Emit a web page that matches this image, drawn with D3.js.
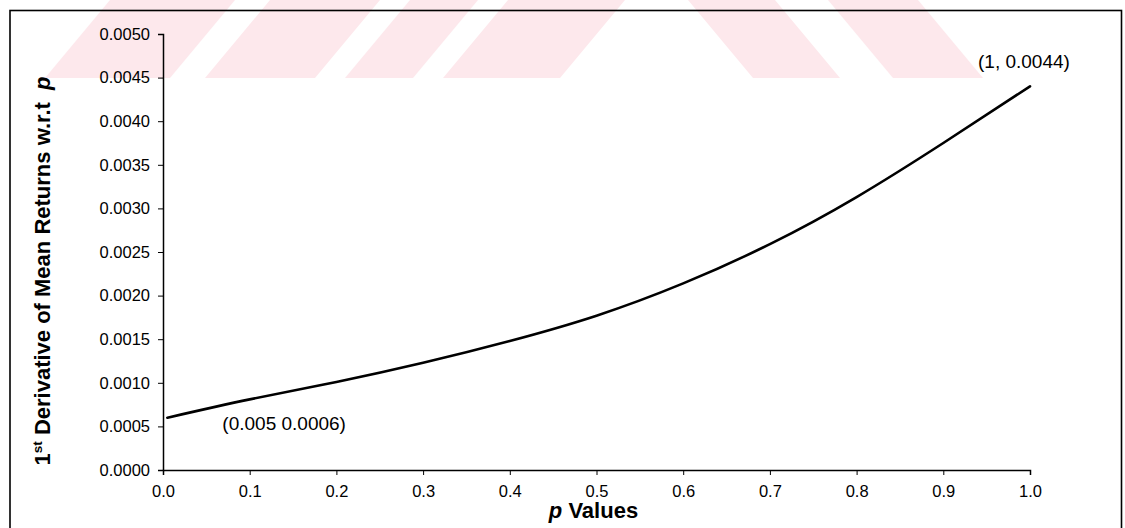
<!DOCTYPE html>
<html>
<head>
<meta charset="utf-8">
<script src="https://cdn.jsdelivr.net/npm/d3@7"></script>
<style>
  body { margin: 0; background: #fff; }
  svg { display: block; }
  text { font-family: "Liberation Sans", Arial, sans-serif; fill: #000; }
</style>
</head>
<body>
<svg id="chart" width="1125" height="528"></svg>
<script>
// p values and the first derivative of mean returns with respect to p
const pValues = [0.005, 0.1, 0.2, 0.3, 0.4, 0.5, 0.6, 0.7, 0.8, 0.9, 1.0];
const derivValues = [0.0006, 0.00081, 0.00101, 0.00123, 0.00148, 0.00177, 0.00214, 0.00259, 0.00313, 0.00375, 0.0044];

const xTicks = [0, 0.1, 0.2, 0.3, 0.4, 0.5, 0.6, 0.7, 0.8, 0.9, 1.0];
const yTicks = [0, 0.0005, 0.001, 0.0015, 0.002, 0.0025, 0.003, 0.0035, 0.004, 0.0045, 0.005];

const startLabel = "(0.005 0.0006)";
const endLabel = "(1, 0.0044)";

// faint banner stripes along the top edge: [bottom-left x, bottom-right x, lean]
const bannerStripes = [
  [45, 170, 1], [205, 315, 1], [345, 413, 1], [443, 560, 1],
  [753, 840, -1], [893, 983, -1]
];

const svg = d3.select("#chart");
const plot = { left: 163, right: 1030, top: 34, bottom: 470 };

// banner
const bannerH = 78, lean = 65;
svg.append("g").selectAll("path")
  .data(bannerStripes)
  .join("path")
  .attr("d", d => {
    const s = d[2] * lean;
    return `M${d[0]},${bannerH} L${d[1]},${bannerH} L${d[1] + s},0 L${d[0] + s},0 Z`;
  })
  .attr("fill", "#fde8ec");

// outer frame
svg.append("rect")
  .attr("x", 10).attr("y", 10.5)
  .attr("width", 1111.5).attr("height", 540)
  .attr("fill", "none").attr("stroke", "#000").attr("stroke-width", 1.6);

const x = d3.scaleLinear().domain([0, 1]).range([plot.left, plot.right]);
const y = d3.scaleLinear().domain([0, 0.005]).range([plot.bottom, plot.top]);

// x axis
const xAxis = svg.append("g")
  .attr("transform", `translate(0,${plot.bottom})`)
  .call(d3.axisBottom(x).tickValues(xTicks).tickFormat(d3.format(".1f")).tickSize(5).tickPadding(10));
xAxis.select(".domain").attr("stroke-width", 1.5);
xAxis.selectAll("text").attr("font-size", 16.5).attr("font-family", '"Liberation Sans", Arial, sans-serif');

// y axis
const yAxis = svg.append("g")
  .attr("transform", `translate(${plot.left},0)`)
  .call(d3.axisLeft(y).tickValues(yTicks).tickFormat(d3.format(".4f")).tickSize(5).tickPadding(8));
yAxis.select(".domain").attr("stroke-width", 1.5);
yAxis.selectAll("text").attr("font-size", 16.5).attr("font-family", '"Liberation Sans", Arial, sans-serif');

// curve
const pts = pValues.map((p, i) => [p, derivValues[i]]);
svg.append("path")
  .datum(pts)
  .attr("fill", "none")
  .attr("stroke", "#000")
  .attr("stroke-width", 2.6)
  .attr("stroke-linejoin", "round")
  .attr("stroke-linecap", "round")
  .attr("d", d3.line().x(d => x(d[0])).y(d => y(d[1])).curve(d3.curveNatural));

// end-point labels
svg.append("text")
  .attr("x", x(pValues[0]) + 55)
  .attr("y", y(derivValues[0]) + 12)
  .attr("font-size", 19)
  .text(startLabel);
svg.append("text")
  .attr("x", x(pValues[pValues.length - 1]) - 52)
  .attr("y", y(derivValues[derivValues.length - 1]) - 18)
  .attr("font-size", 19)
  .text(endLabel);

// x axis title
const xt = svg.append("text")
  .attr("x", (plot.left + plot.right) / 2 - 3)
  .attr("y", 518)
  .attr("text-anchor", "middle")
  .attr("font-size", 22)
  .attr("font-weight", "bold");
xt.append("tspan").attr("font-style", "italic").text("p");
xt.append("tspan").text(" Values");

// y axis title
const yt = svg.append("text")
  .attr("transform", `translate(50,${(72 + 470) / 2}) rotate(-90)`)
  .attr("text-anchor", "middle")
  .attr("font-size", 22)
  .attr("font-weight", "bold")
  .attr("xml:space", "preserve");
yt.append("tspan").text("1");
yt.append("tspan").attr("font-size", 13.5).attr("dy", -8).text("st");
yt.append("tspan").attr("dy", 8).text(" Derivative of Mean Returns w.r.t\u00a0\u00a0");
yt.append("tspan").attr("font-style", "italic").text("p");
</script>
</body>
</html>
